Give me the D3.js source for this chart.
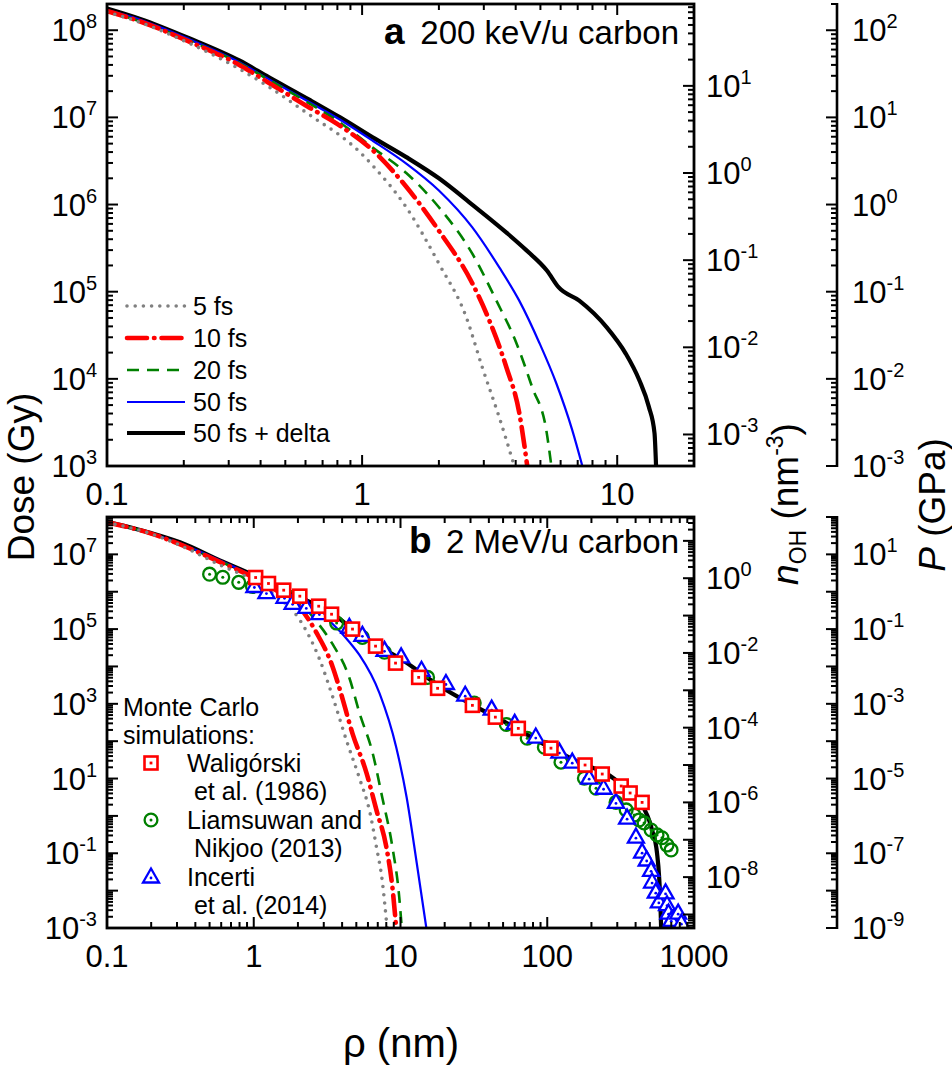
<!DOCTYPE html>
<html><head><meta charset="utf-8">
<script src="https://cdn.jsdelivr.net/npm/d3@7"></script>
<style>
body{margin:0;background:#fff}
text{font-family:"Liberation Sans",Arial,sans-serif;fill:#000}
</style>
</head><body>
<svg id="c" width="952" height="1066"></svg>
<script>
// ================= DATA =================
// Panel a: 200 keV/u carbon  (rho in nm, dose in Gy)
const aRho_5fs   = [0.1,0.135,0.21,0.33,0.43,0.66,0.82,0.98,1.1,1.49,2.0,2.56,2.96,3.45,3.95];
const aDose_5fs  = [1.62e8,1.23e8,7.1e7,3.6e7,2.25e7,9.5e6,6.2e6,4.0e6,2.8e6,9.3e5,2.1e5,5.1e4,1.35e4,3.6e3,1.0e3];
const aRho_10fs  = [0.1,0.135,0.21,0.33,0.43,0.62,0.82,1.1,1.49,2.0,2.7,3.15,3.68,4.13,4.44];
const aDose_10fs = [1.66e8,1.26e8,7.4e7,4.0e7,2.5e7,1.3e7,8.0e6,4.2e6,1.6e6,5.0e5,1.26e5,4.7e4,1.35e4,4.1e3,1.0e3];
const aRho_20fs  = [0.1,0.135,0.21,0.33,0.43,0.62,0.82,1.1,1.49,2.0,2.7,3.36,4.02,4.65,5.27,5.52];
const aDose_20fs = [1.66e8,1.26e8,7.6e7,4.2e7,2.7e7,1.45e7,8.7e6,4.5e6,2.3e6,9.3e5,2.75e5,7.9e4,2.6e4,7.9e3,2.6e3,1.0e3];
const aRho_50fs  = [0.1,0.135,0.21,0.33,0.43,0.62,0.82,1.1,1.49,2.0,2.7,3.45,4.13,4.95,5.77,6.66,7.3];
const aDose_50fs = [1.7e8,1.32e8,7.9e7,4.3e7,2.75e7,1.5e7,9.4e6,5.4e6,2.95e6,1.45e6,5.5e5,1.9e5,7.9e4,2.6e4,8.9e3,2.6e3,1.0e3];
const aRho_delta  = [0.1,0.135,0.21,0.33,0.43,0.62,0.82,1.1,1.49,2.0,2.7,3.7,4.4,5.3,5.9,7.1,9.1,10.8,12.2,13.3,14.0,14.2];
const aDose_delta = [1.78e8,1.35e8,8.1e7,4.5e7,2.9e7,1.6e7,1.0e7,5.9e6,3.5e6,2.0e6,1.0e6,4.7e5,3.0e5,1.75e5,1.12e5,7.9e4,3.9e4,1.95e4,9.7e3,4.8e3,2.4e3,1.0e3];

// Panel b: 2 MeV/u carbon
const bRho_5fs   = [0.1,0.2,0.3,0.6,1.0,1.35,2.06,2.8,3.44,4.3,5.26,6.2,6.85,7.5,8.1];
const bDose_5fs  = [7.1e7,3.55e7,1.9e7,5.0e6,2.0e6,8.9e5,1.75e5,1.6e4,1.6e3,100,10,1.2,0.15,0.019,0.001];
const bRho_10fs  = [0.1,0.2,0.3,0.6,1.0,1.5,2.06,2.68,3.44,3.85,4.71,5.87,6.85,8.0,8.8,9.35];
const bDose_10fs = [7.2e7,3.6e7,2.0e7,6.0e6,2.4e6,9.5e5,3.8e5,7.9e4,1.0e4,2.5e3,160,14,1.45,0.15,0.0126,0.001];
const bRho_20fs  = [0.1,0.2,0.3,0.6,1.0,1.5,2.06,2.68,3.44,4.48,5.26,6.46,7.5,8.8,9.8,10.2];
const bDose_20fs = [7.2e7,3.6e7,2.0e7,6.3e6,2.5e6,1.05e6,5.0e5,1.6e5,4.0e4,5.0e3,560,48,3.2,0.15,0.0068,0.001];
const bRho_50fs  = [0.1,0.2,0.3,0.6,1.0,1.5,2.06,2.8,3.85,4.48,5.26,7.2,9.35,11.0,12.9,15.0];
const bDose_50fs = [7.2e7,3.6e7,2.1e7,6.6e6,2.6e6,1.1e6,6.3e5,2.8e5,8.9e4,4.5e4,2.0e4,1.9e3,69,3.2,0.055,0.001];
const bRho_delta  = [0.1,0.2,0.314,0.587,1.0,1.57,2.5,3.44,4.71,6.46,10,18,30,52,103,181,252,330,423,518,560,578,590,597];
const bDose_delta = [7.4e7,3.7e7,2.1e7,6.9e6,2.75e6,1.1e6,5.0e5,2.6e5,1.0e5,4.2e4,1.6e4,3.2e3,1.0e3,320,69,23,13.8,6.3,2.6,0.42,0.1,0.025,0.005,0.001];

// Monte Carlo simulations (panel b)
const waliRho  = [1.03,1.26,1.60,2.06,2.77,3.39,4.71,6.76,9.25,13.3,17.9,30.9,44.3,63.5,106,181,237,319,367,443];
const waliDose = [2.4e6,1.66e6,1.1e6,7.6e5,4.1e5,2.5e5,1.0e5,3.5e4,1.23e4,5.1e3,2.6e3,910,440,220,65,23,13.2,6.3,4.1,2.3];
const liamRho  = [0.50,0.615,0.79,0.98,1.76,3.67,5.5,7.78,15.3,31.8,52.6,73,95.5,124,179,215,294,345,391,423,457,510,560,605,655,698];
const liamDose = [2.95e6,2.43e6,1.78e6,1.38e6,7.1e5,1.45e5,6.0e4,2.4e4,5.1e3,1.05e3,280,120,69,27.5,10.2,5.5,2.3,1.45,1.05,0.78,0.65,0.42,0.31,0.26,0.166,0.123];
const incRho  = [1.01,1.22,1.62,1.84,2.28,2.8,4.48,5.5,7.78,10.1,13.9,20.4,27.6,41.8,60,83.5,121,148,193,242,294,350,402,443,476,510,518,549,576,640,655,670,700,780,820];
const incDose = [1.38e6,9.5e5,7.1e5,4.9e5,3.8e5,2.6e5,1.12e5,6.8e4,2.7e4,1.8e4,7.9e3,3.5e3,1.7e3,720,300,129,51,27.5,10.2,5.5,2.3,0.87,0.27,0.107,0.066,0.035,0.017,0.0091,0.005,0.0087,0.0042,0.0025,0.0016,0.0025,0.00135];

// Legends / labels / ticks
const seriesNames = ["5 fs","10 fs","20 fs","50 fs","50 fs + delta"];
const mcNames = [["Waligórski"," et al. (1986)"],["Liamsuwan and"," Nikjoo (2013)"],["Incerti"," et al. (2014)"]];
const aXTicks = [0.1,1,10], aXLabels = ["0.1","1","10"];
const bXTicks = [0.1,1,10,100,1000], bXLabels = ["0.1","1","10","100","1000"];
const aDoseLabels = [1e3,1e4,1e5,1e6,1e7,1e8];
const bDoseLabels = [1e-3,1e-1,1e1,1e3,1e5,1e7];
const aNohLabels = [1e-3,1e-2,1e-1,1e0,1e1];
const bNohLabels = [1e-8,1e-6,1e-4,1e-2,1e0];
const aPLabels = [1e-3,1e-2,1e-1,1e0,1e1,1e2];
const bPLabels = [1e-9,1e-7,1e-5,1e-3,1e-1,1e1];
const GY_PER_OH = 2.3e6;   // dose (Gy) corresponding to 1 OH per nm^3
const GPA_PER_GY = 1e-6;   // pressure (GPa) per Gy

// ================= STYLES =================
const styles = [
  {color:"#808080", width:3.6, dash:"0,8.2", cap:"round"},
  {color:"#ff0000", width:4.6, dash:"20,7,0.5,7", cap:"round"},
  {color:"#008000", width:2.6, dash:"12,8", cap:"butt"},
  {color:"#0000ff", width:2.2, dash:null, cap:"butt"},
  {color:"#000000", width:4.2, dash:null, cap:"butt"}
];
const drawOrder = [4,3,2,1,0];   // black underneath, coloured curves on top

const svg = d3.select("#c");
const zip = (xs, ys) => xs.map((x,i)=>[x, ys[i]]);

function logTicks(lo, hi){
  const major=[], minor=[];
  for(let k=Math.floor(Math.log10(lo))-1; k<=Math.ceil(Math.log10(hi)); k++){
    for(let m=1;m<=9;m++){
      const v = +(m*Math.pow(10,k)).toPrecision(6);
      if(v>=lo*0.9999 && v<=hi*1.0001){ (m===1?major:minor).push(v); }
    }
  }
  return {major, minor};
}

function powLabel(g, x, y, v, anchor){
  const e = Math.round(Math.log10(v));
  const t = g.append("text").attr("x",x).attr("y",y).attr("text-anchor",anchor).attr("font-size",31);
  t.append("tspan").text("10");
  t.append("tspan").attr("dy",-13).attr("font-size",20).text(String(e));
}

function styleLine(p, s){
  p.attr("fill","none").attr("stroke",s.color).attr("stroke-width",s.width)
   .attr("stroke-linecap",s.cap).attr("stroke-linejoin","round");
  if(s.dash) p.attr("stroke-dasharray",s.dash);
  return p;
}

function drawMarker(g, type, cx, cy){
  if(type==="sq"){
    g.append("rect").attr("x",cx-6.5).attr("y",cy-6.5).attr("width",13).attr("height",13)
      .attr("fill","#fff").attr("stroke","#ff0000").attr("stroke-width",2.6);
    g.append("rect").attr("x",cx-1.4).attr("y",cy-1.4).attr("width",2.8).attr("height",2.8).attr("fill","#ff0000");
  } else if(type==="ci"){
    g.append("circle").attr("cx",cx).attr("cy",cy).attr("r",6.4)
      .attr("fill","none").attr("stroke","#008000").attr("stroke-width",2.3);
    g.append("circle").attr("cx",cx).attr("cy",cy).attr("r",1.5).attr("fill","#008000");
  } else {
    g.append("path").attr("d",`M${cx},${cy-8.5}L${cx+8},${cy+5.5}L${cx-8},${cy+5.5}Z`)
      .attr("fill","#fff").attr("stroke","#0000ff").attr("stroke-width",2.3).attr("stroke-linejoin","miter");
    g.append("circle").attr("cx",cx).attr("cy",cy+1).attr("r",1.4).attr("fill","#0000ff");
  }
}

function drawPanel(cfg, id){
  const {x0,x1,y0,y1} = cfg;
  const x = d3.scaleLog().domain(cfg.xDom).range([x0,x1]);
  const y = d3.scaleLog().domain(cfg.yDom).range([y1,y0]);
  const yN = d3.scaleLog().domain([cfg.yDom[0]/GY_PER_OH, cfg.yDom[1]/GY_PER_OH]).range([y1,y0]);
  const yP = d3.scaleLog().domain([cfg.yDom[0]*GPA_PER_GY, cfg.yDom[1]*GPA_PER_GY]).range([y1,y0]);

  svg.append("clipPath").attr("id","clip"+id).append("rect")
    .attr("x",x0).attr("y",y0).attr("width",x1-x0).attr("height",y1-y0);
  const plot = svg.append("g").attr("clip-path",`url(#clip${id})`);

  const line = d3.line().x(d=>x(d[0])).y(d=>y(d[1])).curve(d3.curveMonotoneX);
  drawOrder.forEach(i=>{
    styleLine(plot.append("path").attr("d", line(cfg.series[i])), styles[i]);
  });
  if(cfg.markers){
    cfg.markers.forEach(m=>{
      m.pts.forEach(p=>drawMarker(plot, m.type, x(p[0]), y(p[1])));
    });
  }

  const ax = svg.append("g").attr("stroke","#000").attr("fill","none");
  const MAJ=11, MIN=6;
  const xt = logTicks(cfg.xDom[0], cfg.xDom[1]);
  [[xt.major,MAJ],[xt.minor,MIN]].forEach(([vals,len])=>{
    vals.forEach(v=>{
      const px = x(v);
      ax.append("line").attr("x1",px).attr("x2",px).attr("y1",y1).attr("y2",y1-len).attr("stroke-width",2);
      ax.append("line").attr("x1",px).attr("x2",px).attr("y1",y0).attr("y2",y0+len).attr("stroke-width",2);
    });
  });
  const yt = logTicks(cfg.yDom[0], cfg.yDom[1]);
  [[yt.major,MAJ],[yt.minor,MIN]].forEach(([vals,len])=>{
    vals.forEach(v=>{ const py=y(v);
      ax.append("line").attr("x1",x0).attr("x2",x0+len).attr("y1",py).attr("y2",py).attr("stroke-width",2); });
  });
  const nt = logTicks(yN.domain()[0], yN.domain()[1]);
  [[nt.major,MAJ],[nt.minor,MIN]].forEach(([vals,len])=>{
    vals.forEach(v=>{ const py=yN(v);
      ax.append("line").attr("x1",x1).attr("x2",x1-len).attr("y1",py).attr("y2",py).attr("stroke-width",2); });
  });
  const px0 = cfg.pAxisX;
  ax.append("line").attr("x1",px0).attr("x2",px0).attr("y1",y0-1).attr("y2",y1+1).attr("stroke-width",2.6);
  const pt = logTicks(yP.domain()[0], yP.domain()[1]);
  [[pt.major,MAJ],[pt.minor,MIN]].forEach(([vals,len])=>{
    vals.forEach(v=>{ const py=yP(v);
      ax.append("line").attr("x1",px0).attr("x2",px0-len).attr("y1",py).attr("y2",py).attr("stroke-width",2); });
  });
  ax.append("rect").attr("x",x0).attr("y",y0).attr("width",x1-x0).attr("height",y1-y0).attr("stroke-width",2.8);

  const lab = svg.append("g");
  cfg.xTicks.forEach((v,i)=>{
    lab.append("text").attr("x",x(v)).attr("y",y1+39).attr("text-anchor","middle").attr("font-size",31).text(cfg.xLabels[i]);
  });
  cfg.doseLabels.forEach(v=>powLabel(lab, 97, y(v)+11, v, "end"));
  cfg.nohLabels.forEach(v=>powLabel(lab, 706, yN(v)+11, v, "start"));
  cfg.pLabels.forEach(v=>powLabel(lab, 852, yP(v)+11, v, "start"));

  lab.append("text").attr("x",cfg.tagX).attr("y",cfg.titleY).attr("font-size",37).attr("font-weight","bold").text(cfg.tag);
  lab.append("text").attr("x",x1-15).attr("y",cfg.titleY).attr("text-anchor","end").attr("font-size",33).text(cfg.title);
  return {x,y};
}

drawPanel({
  x0:107, x1:694, y0:4, y1:466, xDom:[0.1,20], yDom:[1e3,2e8], pAxisX:837,
  series:[zip(aRho_5fs,aDose_5fs), zip(aRho_10fs,aDose_10fs), zip(aRho_20fs,aDose_20fs), zip(aRho_50fs,aDose_50fs), zip(aRho_delta,aDose_delta)],
  xTicks:aXTicks, xLabels:aXLabels, doseLabels:aDoseLabels, nohLabels:aNohLabels, pLabels:aPLabels,
  tag:"a", tagX:384, title:"200 keV/u carbon", titleY:44
}, "a");

drawPanel({
  x0:107, x1:694, y0:517, y1:928, xDom:[0.1,1000], yDom:[1e-3,1e8], pAxisX:837,
  series:[zip(bRho_5fs,bDose_5fs), zip(bRho_10fs,bDose_10fs), zip(bRho_20fs,bDose_20fs), zip(bRho_50fs,bDose_50fs), zip(bRho_delta,bDose_delta)],
  markers:[{type:"ci", pts:zip(liamRho,liamDose)},{type:"tr", pts:zip(incRho,incDose)},{type:"sq", pts:zip(waliRho,waliDose)}],
  xTicks:bXTicks, xLabels:bXLabels, doseLabels:bDoseLabels, nohLabels:bNohLabels, pLabels:bPLabels,
  tag:"b", tagX:409, title:"2 MeV/u carbon", titleY:553
}, "b");

const legA = svg.append("g");
const legRows = [306,338,370,402,433];
seriesNames.forEach((name,i)=>{
  const yy = legRows[i];
  styleLine(legA.append("path").attr("d",`M127,${yy}L185,${yy}`), styles[i]);
  legA.append("text").attr("x",193).attr("y",yy+9).attr("font-size",25).text(name);
});

const legB = svg.append("g");
legB.append("text").attr("x",123).attr("y",716).attr("font-size",25).text("Monte Carlo");
legB.append("text").attr("x",123).attr("y",744).attr("font-size",25).text("simulations:");
const mcTypes = ["sq","ci","tr"], mcY = [763,820,877];
mcNames.forEach((nm,i)=>{
  drawMarker(legB, mcTypes[i], 151, mcY[i]);
  legB.append("text").attr("x",187).attr("y",mcY[i]+9).attr("font-size",25).text(nm[0]);
  legB.append("text").attr("x",187).attr("y",mcY[i]+37).attr("font-size",25).attr("xml:space","preserve").text(nm[1]);
});

svg.append("text").attr("transform","translate(34,477) rotate(-90)").attr("text-anchor","middle")
  .attr("font-size",37).text("Dose (Gy)");
const tN = svg.append("text").attr("transform","translate(798,504) rotate(-90)").attr("text-anchor","middle").attr("font-size",37);
tN.append("tspan").attr("font-style","italic").text("n");
tN.append("tspan").attr("font-size",23).attr("dy",8).text("OH");
tN.append("tspan").attr("dy",-8).text(" (nm");
tN.append("tspan").attr("font-size",23).attr("dy",-15).text("-3");
tN.append("tspan").attr("dy",15).text(")");
const tP = svg.append("text").attr("transform","translate(945,505) rotate(-90)").attr("text-anchor","middle").attr("font-size",37);
tP.append("tspan").attr("font-style","italic").text("P");
tP.append("tspan").text(" (GPa)");
svg.append("text").attr("x",401).attr("y",1057).attr("text-anchor","middle").attr("font-size",40).text("ρ (nm)");
</script>
</body></html>
